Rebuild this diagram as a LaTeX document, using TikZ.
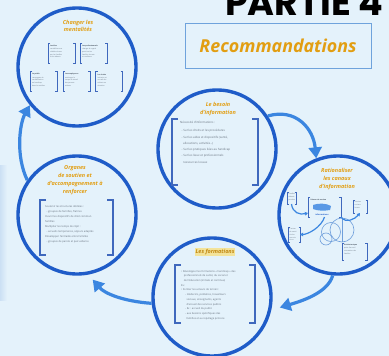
\documentclass[tikz,border=0pt]{standalone}
\usepackage{fontspec}
\setmainfont{Open Sans}
\newfontfamily\headfont{Poppins}
\usetikzlibrary{arrows.meta}
\definecolor{bg}{HTML}{E4F2FB}
\definecolor{band}{HTML}{CCE0F4}
\definecolor{ringc}{HTML}{1F5CC8}
\definecolor{arrc}{HTML}{3B86E0}
\definecolor{gold}{HTML}{E29E12}
\definecolor{brk}{HTML}{3F68BD}
\definecolor{txt}{HTML}{66717E}
\definecolor{dk}{HTML}{3E4956}
\definecolor{hl}{HTML}{F3E39A}
\definecolor{boxc}{HTML}{6FA3DC}
\definecolor{thinc}{HTML}{6F9FDB}
\tikzset{
  ring/.style={circle, draw=ringc, line width=3.4pt, minimum size=118pt, inner sep=0pt},
  flow/.style={draw=arrc, line width=3.2pt, -{Triangle[length=11pt,width=13pt]}},
  smallflow/.style={draw=arrc, line width=1.2pt, -{Triangle[length=3pt,width=3.5pt]}},
  ttl/.style={text=gold, font=\fontsize{5.5}{7.8}\selectfont\itshape\bfseries, align=center, inner sep=0pt},
  tinytxt/.style={text=txt, align=left, inner sep=0pt, anchor=north west},
  minitxt/.style={text=txt, font=\fontsize{1.7}{2.7}\selectfont, align=left, inner sep=0pt, anchor=north west},
  brbox/.style={rectangle, inner sep=0pt, outer sep=0pt, draw=none},
  bigbr/.style={draw=brk, line width=1.7pt},
  smbr/.style={draw=brk, line width=0.6pt},
}
\newcommand\mybox[6]{%
  \node[brbox, minimum width=#3pt, minimum height=#4pt] (#1) at (#2) {};
  \draw[#6] ([xshift=#5pt]#1.north west) -- (#1.north west) -- (#1.south west) -- ([xshift=#5pt]#1.south west);
  \draw[#6] ([xshift=-#5pt]#1.north east) -- (#1.north east) -- (#1.south east) -- ([xshift=-#5pt]#1.south east);
}
\begin{document}
\begin{tikzpicture}[x=1pt, y=-1pt]
\useasboundingbox (0,0) rectangle (389,356);
\fill[bg] (0,0) rectangle (389,356);
\shade[left color=band, right color=bg] (0,165) rectangle (7,300);

% title
\node[anchor=south west, inner sep=0pt] (partie) at (225,16) {\resizebox{158pt}{!}{\headfont\bfseries PARTIE 4}};
\node[draw=boxc, line width=0.8pt, minimum width=186pt, minimum height=45pt, inner sep=0pt] (reco) at (278,45.5) {};
\node[inner sep=0pt, text=gold] (recotxt) at (278,46) {\resizebox{157pt}{!}{\bfseries\itshape Recommandations}};

% circles
\node[ring] (c1) at (77,67) {};
\node[ring] (c2) at (217,149) {};
\node[ring] (c3) at (338,215) {};
\node[ring] (c4) at (212,297) {};
\node[ring] (c5) at (77,215) {};

% arrows
\draw[flow] (c2.33) .. controls +(28,-8) and +(-3,-30) .. (c3.111);
\draw[flow] (c3.-95) .. controls +(-5,18) and +(20,-6) .. ([xshift=8pt]c4.-10);
\draw[flow] (c4.186) .. controls +(-28,-2) and +(12,14) .. ([yshift=-6pt]c5.-75);
\draw[flow] (c5.145) .. controls +(-12,-25) and +(-10,18) .. (c1.219);

% circle 1
\node[ttl] (t1) at (78,26) {Changer les\\mentalités};
\mybox{a1}{61.5,53}{27}{20}{2}{smbr}
\mybox{a2}{93.5,53}{27}{20}{2}{smbr}
\mybox{a3}{43.5,81.5}{27}{20}{2}{smbr}
\mybox{a4}{76.5,81.5}{27}{20}{2}{smbr}
\mybox{a5}{109,81.5}{27}{20}{2}{smbr}
\node[minitxt] (a1t) at ([shift={(2pt,-2pt)}]a1.north west) {\textcolor{dk}{\bfseries Les élus}\\[0.5pt]sensibiliser aux\\réalités vécues\\par les familles\\et les aidants};
\node[minitxt] (a2t) at ([shift={(2pt,-2pt)}]a2.north west) {\textcolor{dk}{\bfseries Les professionnels}\\[0.5pt]changer le regard\\porté sur les\\familles, écoute\\et confiance};
\node[minitxt] (a3t) at ([shift={(2pt,-2pt)}]a3.north west) {\textcolor{dk}{\bfseries Le public}\\[0.5pt]campagnes de\\sensibilisation\\au handicap\\dans les médias};
\node[minitxt] (a4t) at ([shift={(2pt,-2pt)}]a4.north west) {\textcolor{dk}{\bfseries Les employeurs}\\[0.5pt]aménager le\\temps de travail\\des parents\\aidants};
\node[minitxt] (a5t) at ([shift={(2pt,-2pt)}]a5.north west) {\textcolor{dk}{\bfseries Les écoles}\\[0.5pt]inclusion et\\accueil des\\enfants en\\situation};

% circle 2
\node[ttl] (t2) at (218,109) {Le besoin\\d'information};
\mybox{b2}{215,152}{86}{66}{6}{bigbr}
\node[tinytxt, font=\fontsize{2.9}{6.3}\selectfont] (t2b) at (180,121.5) {Nécessité d'informations :\\[1.5pt]
\ \ - Sur les droits et les procédures\\
\ \ - Sur les aides et dispositifs (santé,\\
\ \ \ \ allocations, activités...)\\
\ \ - Sur les pratiques liées au handicap\\
\ \ - Sur les lieux et professionnels\\
\ \ \ \ ressources locaux};

% circle 3
\node[ttl] (t3) at (337,179) {Rationaliser\\les canaux\\d'information};
\mybox{d1}{291.5,198}{9}{12}{1.5}{smbr}
\mybox{d2}{324.5,207}{33}{20}{2}{smbr}
\mybox{d3}{360,206.5}{14}{13}{1.5}{smbr}
\mybox{d4}{294,234.5}{12}{15}{1.5}{smbr}
\mybox{d5}{354.5,251.5}{25}{17}{2}{smbr}
\node[minitxt] (d1t) at ([shift={(1.5pt,-1.5pt)}]d1.north west) {Familles\\aidants\\proches};
\node[minitxt, text=dk] (d2t) at ([shift={(2.5pt,-1.5pt)}]d2.north west) {\bfseries Réseau de soutien};
\fill[arrc!85] (313,205) .. controls (318,203) and (326,203) .. (331,206) -- (330,210) .. controls (324,211) and (318,211) .. (313,209) -- cycle;
\node[minitxt, text=ringc, font=\fontsize{2}{3}\selectfont\bfseries, anchor=center] (d2b) at (322,214.5) {informations};
\node[minitxt] (d3t) at ([shift={(1.5pt,-1.5pt)}]d3.north west) {Services\\sociaux\\locaux};
\node[minitxt] (d4t) at ([shift={(1.5pt,-1.5pt)}]d4.north west) {Centres\\de santé\\écoles\\associa-\\tions};
\node[minitxt] (d5t) at ([shift={(2pt,-1.5pt)}]d5.north west) {\textcolor{dk}{\bfseries Guichet unique}\\point d'accueil\\orientation des\\familles};
\node[circle, draw=thinc, line width=0.6pt, minimum size=24pt, inner sep=0pt] (e1) at (342,230) {};
\node[circle, draw=thinc, line width=0.6pt, minimum size=19pt, inner sep=0pt] (e2) at (331,232) {};
\node[circle, draw=thinc, line width=0.6pt, minimum size=12pt, inner sep=0pt] (e3) at (326,239) {};
\draw[thinc, line width=0.5pt] (e1.north) -- (e1.south);
\draw[smallflow] (d1.south) .. controls +(1,9) and +(-8,2) .. ([yshift=4pt]d2.south west);
\draw[smallflow] (d2.south east) .. controls +(5,7) and +(-5,6) .. (d3.south);
\draw[smallflow] (d2.south) .. controls +(-3,10) and +(8,0) .. (d4.east);

% circle 4
\node[ttl, fill=hl, inner sep=0.8pt, text=gold!85!black] (t4) at (215,252) {Les formations};
\mybox{b4}{215,294}{80}{58}{6}{bigbr}
\node[tinytxt, font=\fontsize{2.6}{4.7}\selectfont] (t4b) at (181,270) {• Développer les formations « handicap » des\\
\ \ \ \ professionnels de santé, du social et\\
\ \ \ \ de l'éducation (initiale et continue)\\
Ex :\\
• Former les acteurs de terrain :\\
\ \ \ \ \ \ - médecins, pédiatres, travailleurs\\
\ \ \ \ \ \ \ \ sociaux, enseignants, agents\\
\ \ \ \ \ \ \ \ d'accueil des services publics\\
\ \ \ \ \ \ - Ex : accueil du public\\
\ \ \ \ \ \ - aux besoins spécifiques des\\
\ \ \ \ \ \ \ \ familles et au repérage précoce};

% circle 5
\node[ttl] (t5) at (75,180) {Organes\\de soutien et\\d'accompagnement à\\renforcer};
\mybox{b5}{76.5,227.5}{73}{55}{6}{bigbr}
\node[tinytxt, font=\fontsize{2.6}{5}\selectfont] (t5b) at (45,205) {Soutenir les structures dédiées :\\
\ \ - groupes de familles, fratries\\
Ouvrir les dispositifs de droit commun\\
familles\\
Multiplier les temps de répit :\\
\ \ - accueils temporaires, séjours adaptés\\
Développer l'entraide entre familles\\
\ \ - groupes de parole et pair-aidance};
\end{tikzpicture}
\end{document}
